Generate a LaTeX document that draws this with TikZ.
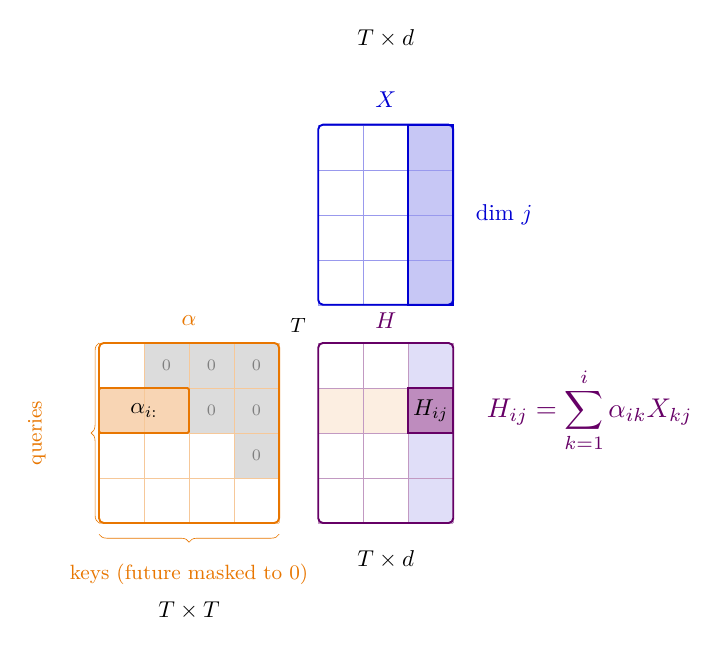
\documentclass[tikz,border=0pt]{standalone}
\usepackage{amsmath}
\usetikzlibrary{positioning,decorations.pathreplacing}
\definecolor{ora}{RGB}{232,118,0}
\definecolor{blu}{RGB}{0,0,210}
\definecolor{pur}{RGB}{102,0,102}
\definecolor{grayfill}{RGB}{220,220,220}
\definecolor{bluefill}{RGB}{199,199,245}
\definecolor{lavfill}{RGB}{224,222,248}
\definecolor{orafill}{RGB}{252,238,225}
\definecolor{orahi}{RGB}{248,213,180}
\definecolor{purhi}{RGB}{190,140,190}
\tikzset{
    every node/.style={scale=1.45},
    frame/.style={line width=1.2pt, rounded corners=3pt},
    zero/.style={font=\scriptsize, text=gray},
    lbl/.style={font=\normalsize}
}
\begin{document}
\begin{tikzpicture}
  \useasboundingbox (0,0) rectangle (16.13,14.47);
  % alpha matrix
  \foreach \c/\r in {2/1,3/1,4/1,3/2,4/2,4/3}{
    \fill[grayfill] ({2.2+\c-1},{6.85-\r}) rectangle ++(1,1);
    \node[zero] at ({2.7+\c-1},{6.35-\r+1}) {0};
  }
  \fill[orahi] (2.2,4.85) rectangle (4.2,5.85);
  \draw[ora!40, very thin, step=1, shift={(2.2,2.85)}] (0,0) grid (4,4);
  \draw[ora, line width=1.2pt, rounded corners=1pt] (2.2,4.85) rectangle (4.2,5.85);
  \node at (3.2,5.35) {$\alpha_{i:}$};
  \draw[ora, frame] (2.2,2.85) rectangle (6.2,6.85);
  \node[lbl, text=ora] (alab) at (4.2,7.35) {$\alpha$};
  \draw[ora, decorate, decoration={brace, amplitude=5pt}] (2.2,2.85) -- (2.2,6.85);
  \node[text=ora, rotate=90, font=\small] (qlab) at (0.82,4.85) {queries};
  \draw[ora, decorate, decoration={brace, amplitude=5pt, mirror}] (2.2,2.6) -- (6.2,2.6);
  \node[text=ora, font=\small] (klab) at (4.2,1.7) {keys (future masked to 0)};
  \node[lbl] (tt) at (4.2,0.9) {$T\times T$};
  \node[font=\small] (tlab) at (6.62,7.25) {$T$};
  % H matrix
  \fill[lavfill] (9.07,2.85) rectangle (10.07,6.85);
  \fill[orafill] (7.07,4.85) rectangle (9.07,5.85);
  \fill[purhi] (9.07,4.85) rectangle (10.07,5.85);
  \draw[pur!40, very thin, step=1, shift={(7.07,2.85)}] (0,0) grid (3,4);
  \draw[pur, line width=1.2pt] (9.07,4.85) rectangle (10.07,5.85);
  \node at (9.57,5.35) {$H_{ij}$};
  \draw[pur, frame] (7.07,2.85) rectangle (10.07,6.85);
  \node[lbl, text=pur] (hlab) at (8.57,7.35) {$H$};
  \node[lbl] (hd) at (8.57,2.05) {$T\times d$};
  \node[lbl, text=pur, scale=1.18] (eq) at (13.1,5.35) {$H_{ij}=\displaystyle\sum_{k=1}^{i}\alpha_{ik}X_{kj}$};
  % X matrix
  \fill[bluefill] (9.07,7.7) rectangle (10.07,11.7);
  \draw[blu!40, very thin, step=1, shift={(7.07,7.7)}] (0,0) grid (3,4);
  \draw[blu, line width=1.2pt] (9.07,7.7) rectangle (10.07,11.7);
  \draw[blu, frame] (7.07,7.7) rectangle (10.07,11.7);
  \node[lbl, text=blu] (xlab) at (8.57,12.25) {$X$};
  \node[lbl, text=blu] (dimj) at (11.2,9.7) {dim $j$};
  \node[lbl] (xd) at (8.57,13.62) {$T\times d$};
\end{tikzpicture}
\end{document}
